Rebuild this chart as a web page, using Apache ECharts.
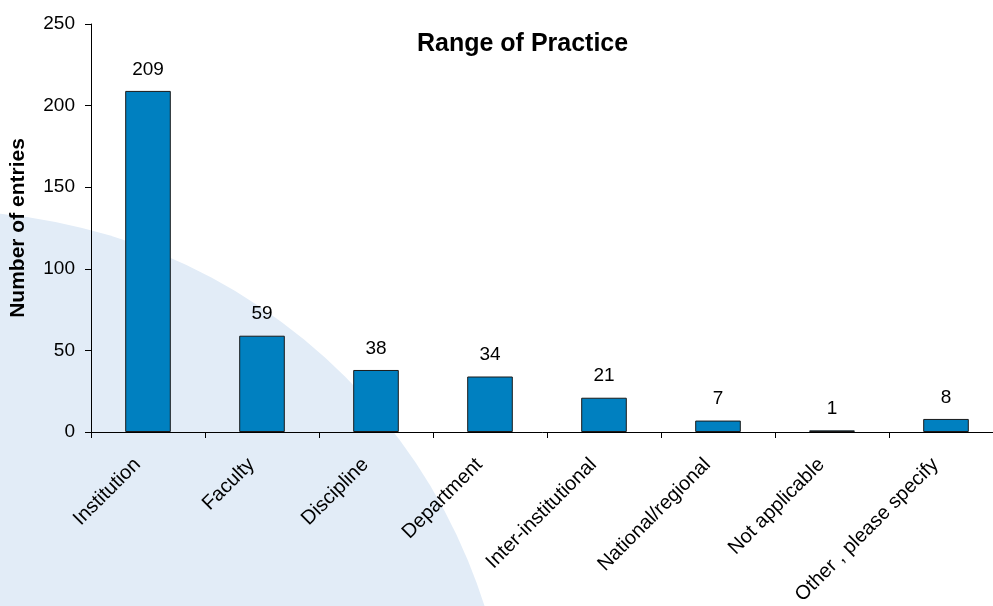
<!DOCTYPE html>
<html>
<head>
<meta charset="utf-8">
<script src="https://cdn.jsdelivr.net/npm/echarts@6/dist/echarts.min.js"></script>
<style>
  html, body { margin: 0; padding: 0; background: #ffffff; }
  #chart { width: 993px; height: 606px; }
</style>
</head>
<body>
<div id="chart"></div>
<script>
const categories = ['Institution', 'Faculty', 'Discipline', 'Department', 'Inter-institutional', 'National/regional', 'Not applicable', 'Other , please specify'];
const entries = [209, 59, 38, 34, 21, 7, 1, 8];
const yTicks = { min: 0, max: 250, interval: 50 };
const chartTitle = 'Range of Practice';
const yAxisName = 'Number of entries';

const FONT = "'Liberation Sans', Arial, sans-serif";
const chart = echarts.init(document.getElementById('chart'), null, { renderer: 'canvas' });

chart.setOption({
  backgroundColor: '#ffffff',
  animation: false,
  title: {
    text: chartTitle,
    left: 412,
    top: 27,
    textStyle: { fontFamily: FONT, fontSize: 25, fontWeight: 'bold', color: '#000' }
  },
  graphic: {
    elements: [{
      type: 'circle',
      silent: true,
      z: -10,
      shape: { cx: -55, cy: 777, r: 566 },
      style: { fill: '#E2ECF7' }
    }]
  },
  grid: { left: 91, top: 24, bottom: 174, right: -10, containLabel: false, outerBoundsMode: 'none' },
  xAxis: {
    type: 'category',
    data: categories,
    boundaryGap: true,
    axisLine: { lineStyle: { color: '#000', width: 1 } },
    axisTick: { show: true, length: 6, lineStyle: { color: '#000' } },
    axisLabel: {
      rotate: 45,
      interval: 0,
      margin: 19,
      padding: [0, 15, 0, 0],
      fontFamily: FONT,
      fontSize: 20,
      color: '#000'
    }
  },
  yAxis: {
    type: 'value',
    min: yTicks.min,
    max: yTicks.max,
    interval: yTicks.interval,
    name: yAxisName,
    nameLocation: 'middle',
    nameGap: 62,
    nameTextStyle: { fontFamily: FONT, fontSize: 21, fontWeight: 'bold', color: '#000' },
    axisLine: { show: true, lineStyle: { color: '#000', width: 1 } },
    axisTick: { show: true, length: 6, lineStyle: { color: '#000' } },
    splitLine: { show: false },
    axisLabel: { margin: 16, fontFamily: FONT, fontSize: 19, color: '#000' }
  },
  series: [{
    type: 'bar',
    data: entries,
    barWidth: '40%',
    itemStyle: { color: '#0080C0', borderColor: '#1a1a1a', borderWidth: 1 },
    label: {
      show: true,
      position: 'top',
      distance: 12,
      fontFamily: FONT,
      fontSize: 19,
      color: '#000'
    }
  }]
});
</script>
</body>
</html>
